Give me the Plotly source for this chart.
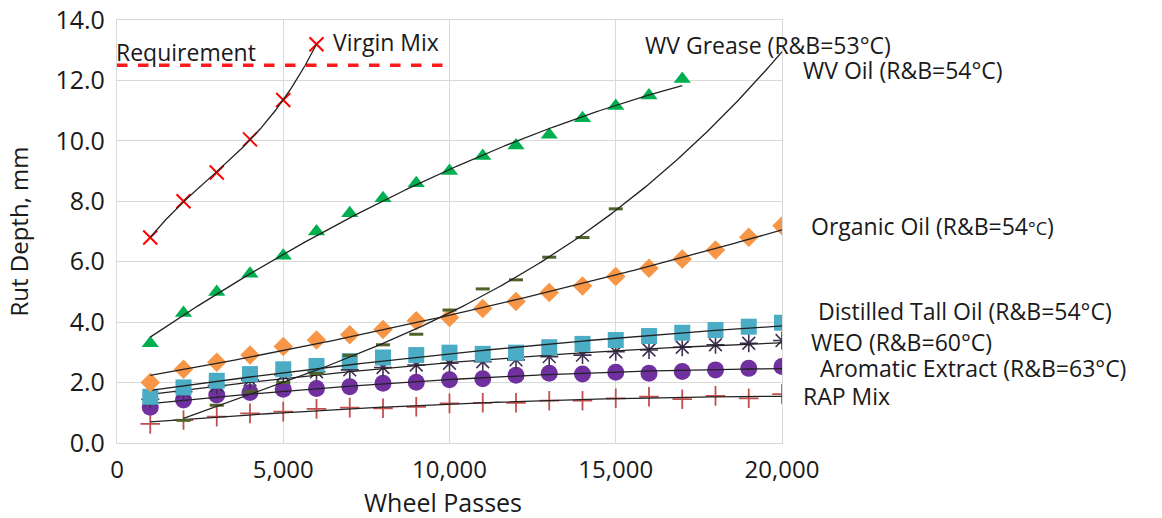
import numpy as np
import plotly.graph_objects as go

# ---------------- data ----------------
passes = [1000 * i for i in range(1, 21)]

virgin_x = passes[:6]
virgin_y = [6.8, 8.0, 8.95, 10.05, 11.35, 13.2]

grease_x = passes[:17]
grease_y = [3.3, 4.3, 5.0, 5.6, 6.2, 7.0, 7.6, 8.1, 8.6, 9.0, 9.5, 9.85, 10.2, 10.75, 11.15, 11.5, 12.05]

wvoil_x = passes[1:15]
wvoil_y = [0.75, 1.25, 1.7, 2.0, 2.3, 2.9, 3.25, 3.6, 4.4, 5.1, 5.4, 6.15, 6.8, 7.75]

organic_y = [2.0, 2.44, 2.67, 2.91, 3.19, 3.41, 3.58, 3.76, 4.05, 4.15,
             4.45, 4.68, 4.98, 5.2, 5.51, 5.78, 6.09, 6.39, 6.81, 7.19]
dto_y = [1.53, 1.84, 2.06, 2.28, 2.44, 2.55, 2.71, 2.83, 2.91, 2.99,
         2.95, 2.99, 3.17, 3.28, 3.41, 3.54, 3.65, 3.74, 3.85, 3.98]
weo_y = [1.45, 1.7, 1.9, 2.09, 2.25, 2.36, 2.42, 2.5, 2.58, 2.64,
         2.69, 2.75, 2.86, 2.91, 3.02, 3.08, 3.17, 3.25, 3.3, 3.39]
aromatic_y = [1.18, 1.42, 1.59, 1.67, 1.78, 1.8, 1.86, 1.98, 2.01, 2.09,
              2.13, 2.24, 2.31, 2.28, 2.34, 2.31, 2.37, 2.42, 2.47, 2.53]
rap_y = [0.63, 0.76, 0.87, 0.98, 1.04, 1.13, 1.17, 1.15, 1.2, 1.31,
         1.33, 1.33, 1.4, 1.4, 1.48, 1.53, 1.45, 1.56, 1.48, 1.62]

requirement_x = [0, 10000]
requirement_y = 12.5

y_ticks = [0, 2, 4, 6, 8, 10, 12, 14]
x_ticks = [0, 5000, 10000, 15000, 20000]

# ---------------- figure ----------------
FONT = "Open Sans"
fig = go.Figure()


def add_series(x, y, symbol, color, size, line_w=0, order=2, trend_end=None):
    xs = np.array(x, dtype=float)
    coef = np.polyfit(xs / 1000.0, np.array(y, dtype=float), order)
    end = trend_end if trend_end is not None else xs.max()
    tx = np.linspace(xs.min(), end, 200)
    ty = np.polyval(coef, tx / 1000.0)
    fig.add_trace(go.Scatter(
        x=x, y=y, mode="markers",
        marker=dict(symbol=symbol, color=color, size=size,
                    line=dict(color=color, width=line_w)),
        showlegend=False, hoverinfo="skip"))
    fig.add_trace(go.Scatter(
        x=tx, y=ty, mode="lines", line=dict(color="#222222", width=1.3),
        showlegend=False, hoverinfo="skip"))


fig.add_trace(go.Scatter(
    x=requirement_x, y=[requirement_y] * len(requirement_x), mode="lines",
    line=dict(color="#FF1A1A", width=3.5, dash="dash"),
    showlegend=False, hoverinfo="skip"))

add_series(passes, rap_y, "cross-thin-open", "#C0504D", 14, 1.8)
add_series(passes, aromatic_y, "circle", "#7030A0", 17)
add_series(passes, weo_y, "asterisk-open", "#3F3151", 15, 1.6)
add_series(passes, dto_y, "square", "#4BACC6", 16)
add_series(passes, organic_y, "diamond", "#F79646", 15)
add_series(wvoil_x, wvoil_y, "line-ew-open", "#4F6228", 10, 3, order=3, trend_end=20000)
add_series(grease_x, grease_y, "triangle-up", "#00B050", 15)
add_series(virgin_x, virgin_y, "x-thin-open", "#FF0000", 14, 2, order=3)

# ---------------- labels ----------------
L, R, T, B = 117, 782, 20, 443
W, H = 1162, 518


def px(xp):
    return (xp - L) / (R - L)


def py(yp):
    return (B - yp) / (B - T)


labels = [
    ("Virgin Mix", 331, 42),
    ("Requirement", 114, 52),
    ("WV Grease (R&amp;B=53°C)", 643, 45),
    ("WV Oil (R&amp;B=54°C)", 801, 70),
    ("Organic Oil (R&amp;B=54<span style='font-size:18px'>°C</span>)", 809, 226),
    ("Distilled Tall Oil (R&amp;B=54°C)", 816, 311),
    ("WEO (R&amp;B=60°C)", 809, 342),
    ("Aromatic Extract (R&amp;B=63°C)", 818, 368),
    ("RAP Mix", 801, 396),
]
for text, xp, yp in labels:
    fig.add_annotation(x=px(xp), y=py(yp), xref="paper", yref="paper",
                       text=text, showarrow=False, xanchor="left", yanchor="middle",
                       font=dict(family=FONT, size=23, color="#1a1a1a"))

# x-axis title
fig.add_annotation(x=px(443), y=py(502), xref="paper", yref="paper",
                   text="Wheel Passes", showarrow=False, xanchor="center",
                   yanchor="middle", font=dict(family=FONT, size=25, color="#1a1a1a"))

fig.update_layout(
    width=W, height=H,
    margin=dict(l=L, r=W - R, t=T, b=H - B, autoexpand=False),
    paper_bgcolor="white", plot_bgcolor="white",
    font=dict(family=FONT, color="#1a1a1a"),
    xaxis=dict(range=[0, 20000], tickvals=x_ticks, tickformat=",d",
               showgrid=True, gridcolor="#D9D9D9", gridwidth=1.3,
               showline=True, linecolor="#D9D9D9", linewidth=1.3, mirror=True,
               zeroline=False, ticks="", tickfont=dict(size=24),
               ticklabelstandoff=5, automargin=False),
    yaxis=dict(range=[0, 14], tickvals=y_ticks, tickformat=".1f",
               showgrid=True, gridcolor="#D9D9D9", gridwidth=1.3,
               showline=True, linecolor="#D9D9D9", linewidth=1.3, mirror=True,
               zeroline=False, ticks="", tickfont=dict(size=25),
               ticklabelstandoff=6, automargin=False,
               title=dict(text="Rut Depth, mm", font=dict(size=24), standoff=19)),
)

fig.write_html("out.html", config={"displayModeBar": False},
               post_script="document.body.style.margin='0px';")
